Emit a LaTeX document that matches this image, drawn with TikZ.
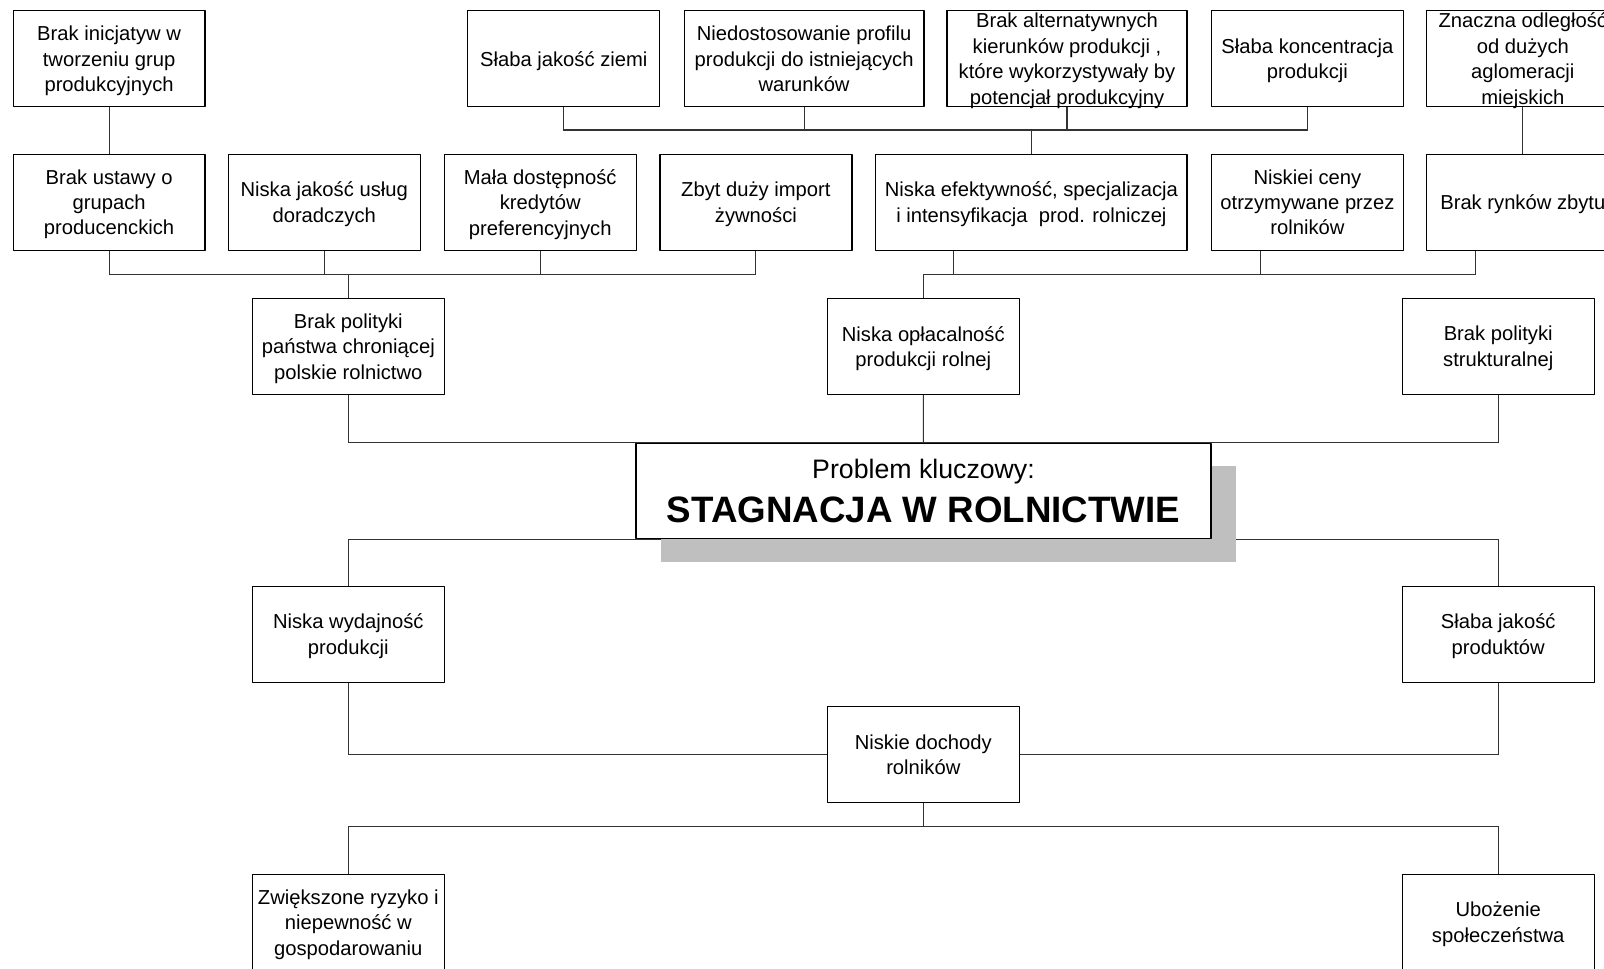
\documentclass[tikz,border=0pt]{standalone}
\usepackage{fontspec}
\setmainfont{Liberation Sans}
\usepackage{tikz}
\usetikzlibrary{calc}
\usetikzlibrary{shadows}
\usetikzlibrary{backgrounds}
\definecolor{cqcqcq}{rgb}{0.75,0.75,0.75}
\tikzstyle{every node}=[font=\fontsize{11.5}{14.5}\selectfont]
\tikzstyle{plainbox}=[draw,line width=0.7pt,fill=white,align=center,minimum width=3.84cm,minimum height=1.92cm,inner xsep=2pt,inner ysep=0pt]
\tikzstyle{box}=[plainbox,text depth=0pt]
\tikzstyle{link}=[line width=0.6pt,color=black!80]

\begin{document}
\begin{tikzpicture}[line cap=round,line join=round,x=0.02cm,y=-0.02cm]
\useasboundingbox (0,0) rectangle (1604,969);
\clip (0,0) rectangle (1604,969);

% top row
\node[box] (u1) at (109.1,58.7) {Brak inicjatyw w\\tworzeniu grup\\produkcyjnych};
\node[box] (u2) at (563.8,58.7) {Słaba jakość ziemi};
\node[box,minimum width=4.8cm] (u3) at (804.1,58.7) {Niedostosowanie profilu\\produkcji do istniejących\\warunków};
\node[box,minimum width=4.8cm] (u4) at (1067,58.7) {Brak alternatywnych\\kierunków produkcji ,\\które wykorzystywały by\\potencjał produkcyjny};
\node[box] (u5) at (1307.4,58.7) {Słaba koncentracja\\produkcji};
\node[box] (u6) at (1522.8,58.7) {Znaczna odległość\\od dużych\\aglomeracji\\miejskich};

% second row
\node[box] (m1) at (109.1,202.2) {Brak ustawy o\\grupach\\producenckich};
\node[box] (m2) at (324.2,202.2) {Niska jakość usług\\doradczych};
\node[box] (m3) at (540.2,202.2) {Mała dostępność\\kredytów\\preferencyjnych};
\node[box] (m4) at (755.9,202.2) {Zbyt duży import\\żywności};
\node[box,minimum width=6.226cm] (m5) at (1031.4,202.2) {Niska efektywność, specjalizacja\\i intensyfikacja~ prod. rolniczej};
\node[box] (m6) at (1307.4,202.2) {Niskiei ceny\\otrzymywane przez\\rolników};
\node[box] (m7) at (1522.8,202.2) {Brak rynków zbytu};

% causes
\node[box] (p1) at (348.3,346.3) {Brak polityki\\państwa chroniącej\\polskie rolnictwo};
\node[box] (p2) at (923.3,346.3) {Niska opłacalność\\produkcji rolnej};
\node[box] (p3) at (1498.2,346.3) {Brak polityki\\strukturalnej};

% key problem
\node[plainbox,minimum width=11.5cm,minimum height=1.908cm,font=\fontsize{15.2}{25}\selectfont,
      drop shadow={shadow xshift=0.496cm,shadow yshift=-0.462cm,fill=cqcqcq,opacity=1}] (key) at (923.5,491)
      {Problem kluczowy:\\{\fontsize{20.9}{25}\selectfont\bfseries STAGNACJA W ROLNICTWIE}};

% effects
\node[box] (q1) at (348.3,634.2) {Niska wydajność\\produkcji};
\node[box] (q2) at (1498.2,634.2) {Słaba jakość\\produktów};
\node[box] (r) at (923.3,754.5) {Niskie dochody\\rolników};
\node[box] (s1) at (348.3,922.3) {Zwiększone ryzyko i\\niepewność w\\gospodarowaniu};
\node[box] (s2) at (1498.2,922.3) {Ubożenie\\społeczeństwa};

\begin{scope}[on background layer]
\coordinate (busA) at (0,130);
\coordinate (busB) at (0,274.2);
\coordinate (busE) at (0,826.6);
\coordinate (m5x) at ($(m5.south)+(-77.8,0)$);
\coordinate (m6x) at ($(m6.south)+(-46.8,0)$);
\coordinate (m7x) at ($(m7.south)+(-47.1,0)$);

\draw[link] (u1) -- (m1);
\draw[link] (u6) -- (m7);
\draw[link] (u2.south) |- (u5.south |- busA) -- (u5.south);
\draw[link] (u3.south) -- (u3.south |- busA);
\draw[link] (u4.south) -- (u4.south |- busA);
\draw[link] (m5.north) -- (m5.north |- busA);

\draw[link] (m1.south) |- (m4.south |- busB) -- (m4.south);
\draw[link] (m2.south) -- (m2.south |- busB);
\draw[link] (m3.south) -- (m3.south |- busB);
\draw[link] (p1.north) -- (p1.north |- busB);
\draw[link] (p2.north) |- (m7x |- busB) -- (m7x);
\draw[link] (m5x) -- (m5x |- busB);
\draw[link] (m6x) -- (m6x |- busB);

\draw[link] (p1.south) |- (p3.south |- key.north) -- (p3.south);
\draw[link] (p2) -- (key);
\draw[link] (q1.north) |- (q2.north |- key.south) -- (q2.north);
\draw[link] (q1.south) |- (r.west);
\draw[link] (q2.south) |- (r.east);
\draw[link] (s1.north) |- (s2.north |- busE) -- (s2.north);
\draw[link] (r.south) -- (r.south |- busE);
\end{scope}
\end{tikzpicture}
\end{document}
